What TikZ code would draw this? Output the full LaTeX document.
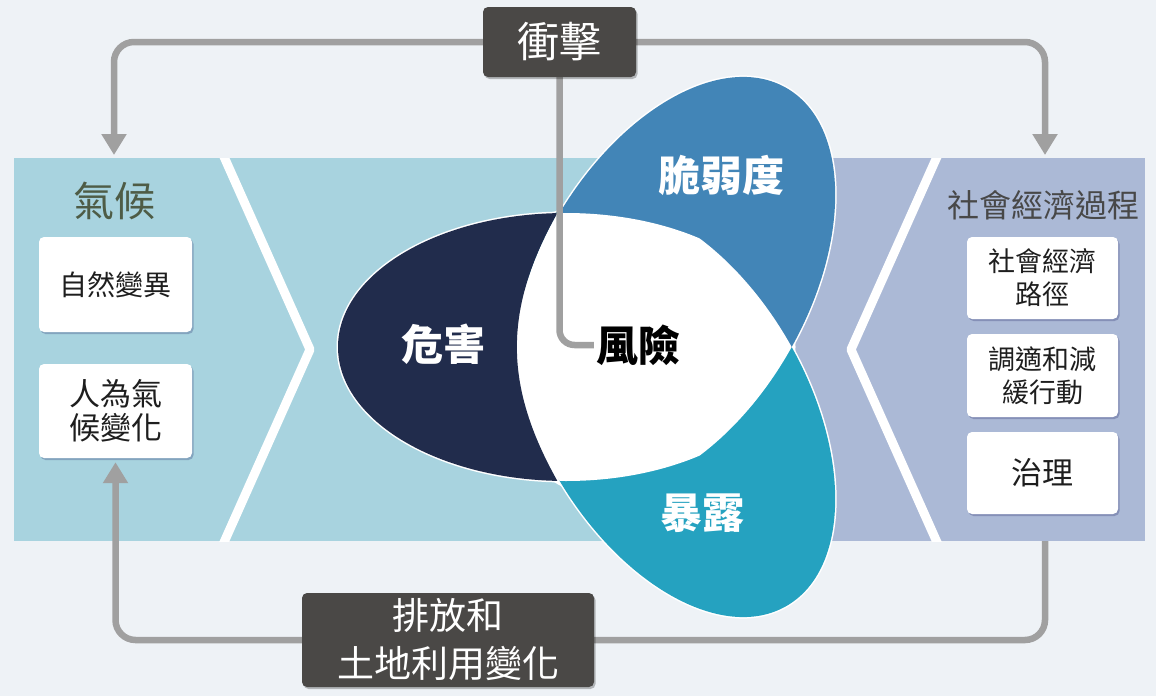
\documentclass[tikz,border=0pt]{standalone}
\usepackage{fontspec}
\newfontfamily\cjk{Noto Sans CJK TC}
\usetikzlibrary{arrows.meta,shadows}
\pgfdeclarelayer{back}
\pgfdeclarelayer{mid}
\pgfsetlayers{back,mid,main}
\definecolor{bg}{RGB}{238,242,246}
\definecolor{bandblue}{RGB}{168,211,223}
\definecolor{bandlav}{RGB}{171,185,214}
\definecolor{navy}{RGB}{33,44,76}
\definecolor{vulc}{RGB}{66,133,183}
\definecolor{expc}{RGB}{37,162,192}
\definecolor{boxgray}{RGB}{74,72,70}
\definecolor{conncol}{RGB}{160,160,160}
\definecolor{climtxt}{RGB}{78,92,70}
\definecolor{sociotxt}{RGB}{72,72,72}
\definecolor{boxtxt}{RGB}{30,30,30}
\begin{document}
\begin{tikzpicture}[x=1pt,y=-1pt,
  every node/.style={font=\cjk, inner sep=0pt},
  prad/.style={x radius=228pt, y radius=134pt},
  connector/.style={draw=conncol, line width=6.5pt, rounded corners=20pt},
  arrowend/.style={-{Triangle[width=24pt,length=21pt]}},
  darkbox/.style={fill=boxgray, rounded corners=5pt, text=white, align=center,
     drop shadow={shadow xshift=1.5pt, shadow yshift=-2pt, opacity=0.25, fill=black}},
  whitebox/.style={fill=white, rounded corners=5pt, text=boxtxt, align=center,
     drop shadow={shadow xshift=1.5pt, shadow yshift=-2pt, opacity=0.22, fill=black!70!blue}},
  petaltext/.style={font=\cjk\bfseries\fontsize{42}{48}\selectfont, text=white},
  chev/.style={draw=white, line width=9pt, line join=round}
]
\useasboundingbox (0,0) rectangle (1156,696);
\begin{pgfonlayer}{back}
\fill[bg] (0,0) rectangle (1156,696);
% bands
\fill[bandblue] (14,158) rectangle (700,541);
\fill[bandlav] (700,158) rectangle (1145,541);
\begin{scope}
  \clip (14,158) rectangle (1145,541);
  \draw[chev] (221,150) -- (310,349.5) -- (221,549);
  \draw[chev] (940,150) -- (851,349.5) -- (940,549);
\end{scope}
% propeller
\coordinate (H) at (566,347);
\coordinate (V) at (672.5,285.5);
\coordinate (E) at (672.5,408.5);
\coordinate (A) at (558.5,211);
\coordinate (D) at (558.5,483);
\draw[white, line width=3pt, prad] (H) ellipse;
\draw[white, line width=3pt, prad, rotate around={60:(V)}] (V) ellipse;
\draw[white, line width=3pt, prad, rotate around={-60:(E)}] (E) ellipse;
\fill[expc, prad, rotate around={-60:(E)}] (E) ellipse;
\begin{scope}
  \clip (0,0) rectangle (1156,347);
  \fill[vulc, prad, rotate around={60:(V)}] (V) ellipse;
\end{scope}
% risk (white) region
\begin{scope}
  \clip[prad] (H) ellipse;
  \clip[prad, rotate around={60:(V)}] (V) ellipse;
  \fill[white, prad, rotate around={-60:(E)}] (E) ellipse;
\end{scope}
\fill[white] (A) .. controls (503,309) and (503,385) .. (D) -- cycle;
% hazard (navy)
\begin{scope}
  \clip (0,0) -- (558.5,0) -- (A) .. controls (503,309) and (503,385) .. (D)
        -- (558.5,696) -- (0,696) -- cycle;
  \fill[navy, prad] (H) ellipse;
\end{scope}
\end{pgfonlayer}

% petal texts
\node[petaltext] (haz) at (443,344) {危害};
\node[petaltext] (vul) at (721,175) {脆弱度};
\node[petaltext] (exo) at (702,513) {暴露};
\node[petaltext, text=black] (risk) at (638,345) {風險};

% left panel
\node[font=\cjk\fontsize{41}{48}\selectfont, text=climtxt] (clim) at (114,201) {氣候};
\node[whitebox, minimum width=153pt, minimum height=95pt, font=\cjk\fontsize{28}{34}\selectfont] (nat) at (115.5,284.5) {自然變異};
\node[whitebox, minimum width=153pt, minimum height=94pt, font=\cjk\fontsize{31}{34}\selectfont] (anthro) at (115.5,411) {人為氣\\候變化};

% right panel
\node[font=\cjk\fontsize{32}{38}\selectfont, text=sociotxt] (socio) at (1043.5,205) {社會經濟過程};
\node[whitebox, minimum width=151pt, minimum height=82pt, font=\cjk\fontsize{27}{33}\selectfont] (path) at (1042.5,278) {社會經濟\\路徑};
\node[whitebox, minimum width=151pt, minimum height=83pt, font=\cjk\fontsize{27}{33}\selectfont] (adapt) at (1042.5,375.5) {調適和減\\緩行動};
\node[whitebox, minimum width=151pt, minimum height=82pt, font=\cjk\fontsize{31}{36}\selectfont] (gov) at (1042.5,473) {治理};

% dark boxes
\node[darkbox, minimum width=153pt, minimum height=70pt, font=\cjk\fontsize{42}{48}\selectfont] (imp) at (559.5,42) {衝擊};
\node[darkbox, minimum width=292pt, minimum height=94pt, font=\cjk\fontsize{37}{48}\selectfont] (emis) at (448,640) {排放和\\土地利用變化};

% connectors
\coordinate (climTop) at (114,155);
\coordinate (socTop) at (1045,155);
\coordinate (socBot) at (1045,541);
\begin{pgfonlayer}{mid}
\draw[connector, arrowend] (imp.west) -| (climTop);
\draw[connector, arrowend] (imp.east) -| (socTop);
\draw[connector, rounded corners=15pt, shorten >=2pt] (imp.south) |- (risk.west);
\draw[connector, arrowend, shorten >=4pt] (emis.west) -| (anthro.south);
\draw[connector] (emis.east) -| (socBot);
\end{pgfonlayer}
\end{tikzpicture}
\end{document}
